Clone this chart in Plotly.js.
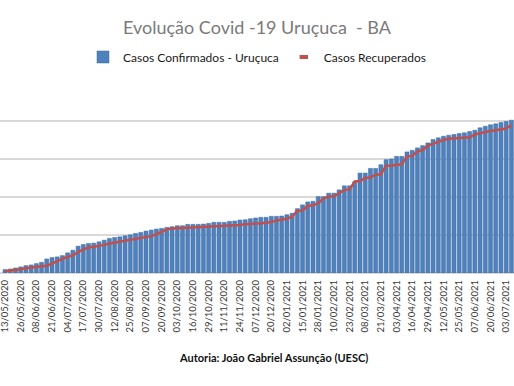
<!DOCTYPE html>
<html>
<head>
<meta charset="utf-8">
<script src="https://cdn.plot.ly/plotly-3.0.1.min.js"></script>
<style>html,body{margin:0;padding:0;background:#fff;}#chart{width:514px;height:386px;}</style>
</head>
<body>
<div id="chart"></div>
<script>
// Tick labels shown on the x axis (every 3rd bulletin)
var tickLabels = ["13/05/2020","26/05/2020","08/06/2020","21/06/2020","04/07/2020","17/07/2020","30/07/2020","12/08/2020","25/08/2020","07/09/2020","20/09/2020","03/10/2020","16/10/2020","29/10/2020","11/11/2020","24/11/2020","07/12/2020","20/12/2020","02/01/2021","15/01/2021","28/01/2021","10/02/2021","23/02/2021","08/03/2021","21/03/2021","03/04/2021","16/04/2021","29/04/2021","12/05/2021","25/05/2021","07/06/2021","20/06/2021","03/07/2021"];

// Confirmed cases (bars)
var confirmed = [45,53,66,80,97,106,124,141,185,203,212,229,265,300,353,375,389,393,410,432,455,468,476,490,503,521,534,552,565,578,587,600,609,622,622,640,640,640,644,653,667,667,667,680,684,697,701,714,724,733,733,746,746,750,767,786,847,896,935,944,1005,1005,1050,1050,1094,1147,1147,1204,1315,1315,1376,1376,1425,1491,1500,1535,1535,1593,1614,1646,1676,1712,1756,1778,1799,1813,1822,1835,1844,1861,1879,1910,1932,1950,1963,1981,1994,2011];

// Recovered cases (line)
var recovered = [22,28,38,50,62,70,80,88,95,125,159,185,212,230,278,310,336,345,353,370,389,400,410,420,432,443,455,470,485,510,542,574,587,590,594,597,600,605,610,614,618,620,622,625,627,632,640,648,650,655,662,670,690,700,714,740,820,822,882,890,918,980,1005,1010,1050,1094,1100,1204,1210,1249,1255,1293,1300,1412,1415,1420,1430,1535,1540,1601,1615,1676,1700,1733,1750,1765,1770,1778,1780,1785,1822,1840,1852,1870,1879,1890,1901,1945];

var seriesNames = ['Casos Confirmados - Uruçuca', 'Casos Recuperados'];

var idx = confirmed.map(function(_, i){ return i; });
var tickIdx = tickLabels.map(function(_, k){ return k * 3; });

var traces = [
  {type:'bar', x: idx, y: confirmed, name: seriesNames[0],
   marker:{color:'#4f81bd', line:{color:'#3c6aa3', width:0.5}}},
  {type:'scatter', mode:'lines', x: idx, y: recovered, name: seriesNames[1], showlegend:false,
   legendgroup:'rec', line:{color:'#c0504d', width:2.5}},
  // legend key only (short red dash as in the original legend)
  {type:'scatter', mode:'markers', x:[null], y:[null], name: seriesNames[1], legendgroup:'rec',
   marker:{symbol:'line-ew-open', size:6, color:'#c0504d', line:{color:'#c0504d', width:4}}}
];

var layout = {
  width:514, height:386,
  margin:{l:0, r:0, t:83, b:113, pad:0},
  paper_bgcolor:'#fff', plot_bgcolor:'#fff',
  bargap:0.23,
  font:{family:'Lato, "Open Sans", sans-serif', color:'#404040'},
  title:{text:'Evolução Covid -19 Uruçuca \u00a0- BA', x:0.5, xanchor:'center', y:1-28/386, yanchor:'middle', yref:'container',
         font:{size:18, color:'#7a7a7a', family:'Lato, sans-serif'}},
  showlegend:true,
  legend:{orientation:'h', x:0.5, xanchor:'center', yref:'container', y:1-57/386, yanchor:'middle',
          font:{size:12, color:'#1a1a1a'}, itemwidth:30, traceorder:'normal'},
  xaxis:{range:[-0.96, 97.5], tickmode:'array', tickvals: tickIdx, ticktext: tickLabels,
         tickangle:-90, tickfont:{size:9.5, color:'#3a3a3a'}, showgrid:false, zeroline:false,
         showline:false, ticks:'', ticklabelstandoff:4, ticklabeloverflow:'allow', fixedrange:true},
  yaxis:{range:[0,2500], dtick:500, showticklabels:false, showgrid:true, gridcolor:'#d9d9d9', gridwidth:1.5,
         zeroline:true, zerolinecolor:'#d9d9d9', zerolinewidth:1.5, fixedrange:true},
  annotations:[{text:'<b>Autoria: João Gabriel Assunção (UESC)</b>', xref:'paper', yref:'paper',
                x:273/514, y:(272.7-357)/189.7, xanchor:'center', yanchor:'middle', showarrow:false,
                font:{size:11, color:'#111', family:'Lato, sans-serif'}}]
};

Plotly.newPlot('chart', traces, layout, {displayModeBar:false, staticPlot:true});
</script>
</body>
</html>
